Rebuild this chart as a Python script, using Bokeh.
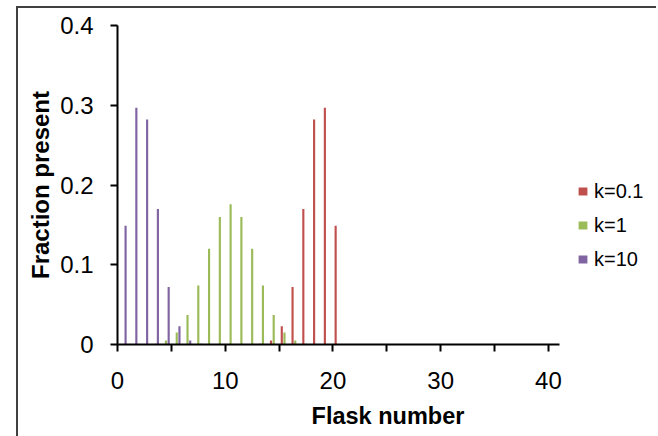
from bokeh.plotting import figure
from bokeh.models import Range1d, FixedTicker, Legend, ColumnDataSource
from bokeh.transform import dodge
from bokeh.embed import file_html
from bokeh.resources import INLINE

# ---- data ----
flask = [0, 1, 2, 3, 4, 5, 6, 7, 8, 9, 10, 11, 12, 13, 14, 15, 16, 17, 18, 19, 20]
k_01 = [0, 0, 0, 0, 0, 0, 0, 0, 0, 0, 0, 0, 0, 0.001, 0.005, 0.023, 0.072, 0.170, 0.282, 0.297, 0.149]
k_1 = [0, 0, 0, 0.001, 0.005, 0.015, 0.037, 0.074, 0.120, 0.160, 0.176, 0.160, 0.120, 0.074, 0.037, 0.015, 0.005, 0.001, 0, 0, 0]
k_10 = [0.149, 0.297, 0.282, 0.170, 0.072, 0.023, 0.005, 0.001, 0, 0, 0, 0, 0, 0, 0, 0, 0, 0, 0, 0, 0]
series_names = ["k=0.1", "k=1", "k=10"]
x_ticks = [0, 5, 10, 15, 20, 25, 30, 35, 40]
x_tick_labels = ["0", "", "10", "", "20", "", "30", "", "40"]
y_ticks = [0, 0.1, 0.2, 0.3, 0.4]
y_tick_labels = ["0", "0.1", "0.2", "0.3", "0.4"]

colors = ["#C0504D", "#9BBB59", "#8064A2"]
FONT = "Liberation Sans"

src = ColumnDataSource(dict(flask=flask, k01=k_01, k1=k_1, k10=k_10))

W, H = 640, 430
p = figure(width=W, height=H, output_backend="svg", toolbar_location=None,
           x_range=Range1d(0, 50.22), y_range=Range1d(0, 0.4),
           min_border_left=99, min_border_top=17, min_border_right=0,
           min_border_bottom=94)
p.styles = {"position": "relative", "left": "16px", "top": "6px",
            "border-left": "2px solid #404040", "border-top": "2px solid #404040"}

p.xgrid.visible = False
p.ygrid.visible = False
p.outline_line_color = None
p.background_fill_color = "white"
p.border_fill_color = "white"

bw = 0.2
r1 = p.vbar(x=dodge("flask", 0.25, range=p.x_range), top="k01", width=bw, bottom=0,
            source=src, fill_color=colors[0], line_color=None)
r2 = p.vbar(x=dodge("flask", 0.5, range=p.x_range), top="k1", width=bw, bottom=0,
            source=src, fill_color=colors[1], line_color=None)
r3 = p.vbar(x=dodge("flask", 0.75, range=p.x_range), top="k10", width=bw, bottom=0,
            source=src, fill_color=colors[2], line_color=None)

for ax in (p.xaxis[0], p.yaxis[0]):
    ax.axis_line_width = 2
    ax.axis_line_color = "black"
    ax.major_tick_line_width = 2
    ax.major_tick_line_color = "black"
    ax.minor_tick_line_color = None
    ax.major_tick_in = 0
    ax.major_tick_out = 7
    ax.major_label_text_font = FONT
    ax.major_label_text_font_size = "24px"
    ax.major_label_text_color = "black"
    ax.axis_label_text_font = FONT
    ax.axis_label_text_font_style = "bold"
    ax.axis_label_text_color = "black"

p.xaxis[0].bounds = (0, 41)
p.xaxis[0].ticker = FixedTicker(ticks=x_ticks)
p.xaxis[0].major_label_overrides = {t: l for t, l in zip(x_ticks, x_tick_labels)}
p.xaxis[0].axis_label = "Flask number"
p.xaxis[0].axis_label_text_font_size = "23.5px"
p.xaxis[0].major_label_standoff = 20
p.xaxis[0].axis_label_standoff = 11

p.yaxis[0].ticker = FixedTicker(ticks=y_ticks)
p.yaxis[0].major_label_overrides = {t: l for t, l in zip(y_ticks, y_tick_labels)}
p.yaxis[0].axis_label = "Fraction present"
p.yaxis[0].axis_label_text_font_size = "24px"
p.yaxis[0].major_label_standoff = 17
p.yaxis[0].axis_label_standoff = 3

legend = Legend(items=[(series_names[0], [r1]), (series_names[1], [r2]), (series_names[2], [r3])],
                location=(460, 73), orientation="vertical")
legend.border_line_color = None
legend.background_fill_alpha = 0
legend.padding = 0
legend.margin = 0
legend.spacing = 10
legend.glyph_width = 11
legend.glyph_height = 10
legend.label_height = 24
legend.label_standoff = 6
legend.label_text_font = FONT
legend.label_text_font_size = "20px"
legend.label_text_color = "black"
p.add_layout(legend)

open("out.html", "w").write(file_html(p, INLINE))
